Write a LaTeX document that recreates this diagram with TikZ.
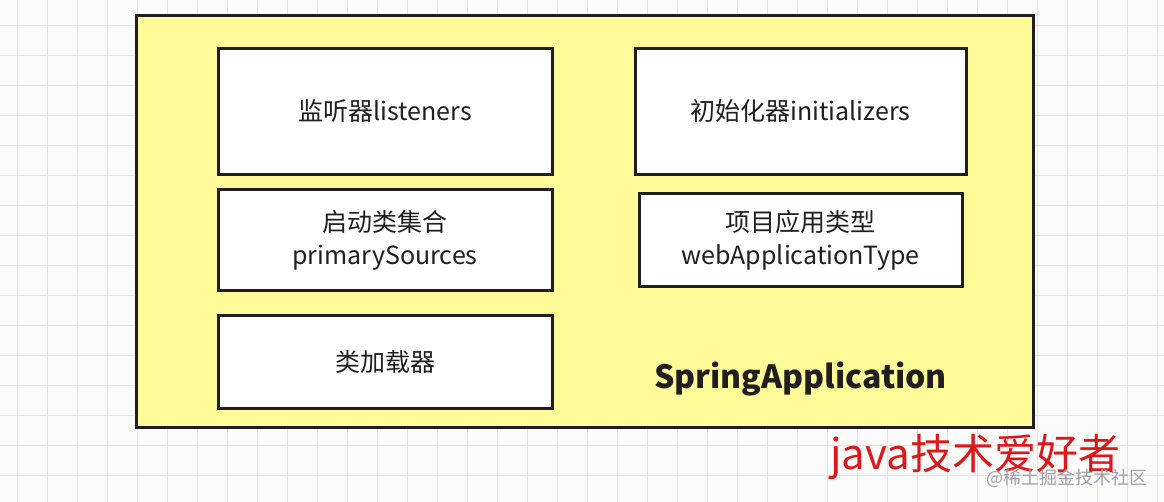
\documentclass[tikz,border=0pt]{standalone}
\usepackage{fontspec}
\setmainfont{Noto Sans CJK SC}
\definecolor{paper}{RGB}{252,251,252}
\definecolor{gridline}{RGB}{226,226,232}
\definecolor{appyellow}{RGB}{255,250,152}
\definecolor{ink}{RGB}{32,30,32}
\definecolor{brand}{RGB}{222,24,24}
\definecolor{mark}{RGB}{160,160,166}
\usetikzlibrary{positioning}

\begin{document}
\begin{tikzpicture}[x=1pt,y=-1pt,
    membox/.style={draw=ink,line width=3pt,fill=white,text=ink,align=center,
      font=\fontsize{25}{33}\selectfont,inner sep=0pt}]
        \fill[paper] (0,0) rectangle (1164,502);
        \useasboundingbox (0,0) rectangle (1164,502);
        \foreach \gx in {17,47,...,1164}
          \draw[gridline,thin] (\gx,0) -- (\gx,502);
        \foreach \gy in {25,55,...,502}
          \draw[gridline,thin] (0,\gy) -- (1164,\gy);
        % application frame
        \node[draw=ink,line width=3pt,fill=appyellow,minimum width=897pt,minimum height=412pt,inner sep=0pt]
          (app) at (585,221.5) {};
        \node[membox,minimum width=334pt,minimum height=126pt] (listeners) at (385,111.5) {监听器listeners};
        \node[membox,minimum width=331pt,minimum height=126pt] (initializers) at (800.5,111.5) {初始化器initializers};
        \node[membox,minimum width=334pt,minimum height=101pt] (sources) at (385,240) {启动类集合\\primarySources};
        \node[membox,minimum width=323pt,minimum height=93pt] (apptype) at (800.5,240) {项目应用类型\\webApplicationType};
        \node[membox,minimum width=334pt,minimum height=93pt] (loader) at (385,362) {类加载器};
        \node[text=ink,font=\fontsize{32}{32}\selectfont\bfseries] (apptitle) at (800.5,379) {SpringApplication};
        % signature
        \node[text=brand,font=\fontsize{42}{42}\selectfont,anchor=west,inner sep=0pt] (brandname) at (830,457) {java技术爱好者};
        \node[text=mark,font=\fontsize{18}{18}\selectfont,anchor=east,inner sep=0pt] (watermark) at (1148,478) {@稀土掘金技术社区};
      \end{tikzpicture}
\end{document}
